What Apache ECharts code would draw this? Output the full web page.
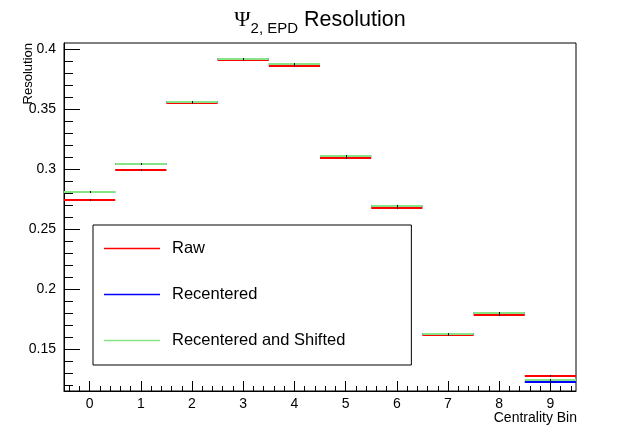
<!DOCTYPE html>
<html>
<head>
<meta charset="utf-8">
<script src="https://cdn.jsdelivr.net/npm/echarts@6/dist/echarts.min.js"></script>
<style>
html,body{margin:0;padding:0;background:#fff;}
#chart{width:640px;height:435px;}
</style>
</head>
<body>
<div id="chart"></div>
<script>
// ---- data ----
var bins = [0, 1, 2, 3, 4, 5, 6, 7, 8, 9];
var rawValues = [0.2742, 0.2991, 0.3549, 0.3907, 0.3857, 0.3091, 0.2675, 0.1618, 0.1785, 0.1277];
var recenteredValues = [0.2808, 0.3041, 0.3557, 0.3915, 0.3873, 0.3108, 0.2692, 0.1626, 0.1801, 0.1227];
var shiftedValues = [0.2808, 0.3041, 0.3557, 0.3915, 0.3873, 0.3108, 0.2692, 0.1626, 0.1801, 0.1244];
var rawErrors = [0.0008, 0.0008, 0.0008, 0.0008, 0.0008, 0.0008, 0.0008, 0.0008, 0.0008, 0.0008];
var recenteredErrors = [0.0008, 0.0008, 0.0008, 0.0008, 0.0008, 0.0008, 0.0008, 0.0008, 0.0008, 0.0008];
var shiftedErrors = [0.0008, 0.0008, 0.0008, 0.0008, 0.0008, 0.0008, 0.0008, 0.0008, 0.0008, 0.0008];
var seriesNames = ['Raw', 'Recentered', 'Recentered and Shifted'];
var xAxisTitle = 'Centrality Bin';
var yAxisTitle = 'Resolution';
var xTickLabels = [0, 1, 2, 3, 4, 5, 6, 7, 8, 9];
var yTickLabels = [0.15, 0.2, 0.25, 0.3, 0.35, 0.4];
var xMinorTicks = [-0.4, -0.2, 0.2, 0.4, 0.6, 0.8, 1.2, 1.4, 1.6, 1.8, 2.2, 2.4, 2.6, 2.8, 3.2, 3.4, 3.6, 3.8,
  4.2, 4.4, 4.6, 4.8, 5.2, 5.4, 5.6, 5.8, 6.2, 6.4, 6.6, 6.8, 7.2, 7.4, 7.6, 7.8, 8.2, 8.4, 8.6, 8.8, 9.2, 9.4];
var yMinorTicks = [0.12, 0.13, 0.14, 0.16, 0.17, 0.18, 0.19, 0.21, 0.22, 0.23, 0.24, 0.26, 0.27, 0.28, 0.29,
  0.31, 0.32, 0.33, 0.34, 0.36, 0.37, 0.38, 0.39];

var FONT = 'Liberation Sans, Arial, Helvetica, sans-serif';
var colors = ['#ff0000', '#0000ff', '#86e486'];

function makeData(vals, errs) {
  return bins.map(function (b, i) { return [b, vals[i], errs[i]]; });
}

function makeRender(color) {
  return function (params, api) {
    var x = api.value(0), y = api.value(1), e = api.value(2);
    var p1 = api.coord([x - 0.5, y]);
    var p2 = api.coord([x + 0.5, y]);
    var c1 = api.coord([x, y - e]);
    var c2 = api.coord([x, y + e]);
    var py = Math.round(p1[1]);
    var cx = Math.round(c1[0]) + 0.5;
    return {
      type: 'group',
      children: [
        { type: 'line', shape: { x1: p1[0], y1: py, x2: p2[0], y2: py },
          style: { stroke: color, lineWidth: 2 } },
        { type: 'line', shape: { x1: cx, y1: c1[1], x2: cx, y2: c2[1] },
          style: { stroke: '#000', lineWidth: 1 } }
      ]
    };
  };
}

var allVals = [rawValues, recenteredValues, shiftedValues];
var allErrs = [rawErrors, recenteredErrors, shiftedErrors];
var series = seriesNames.map(function (name, k) {
  return {
    name: name,
    type: 'custom',
    xAxisIndex: 0,
    yAxisIndex: 0,
    clip: true,
    itemStyle: { color: colors[k] },
    encode: { x: 0, y: 1 },
    renderItem: makeRender(colors[k]),
    data: makeData(allVals[k], allErrs[k])
  };
});

var chart = echarts.init(document.getElementById('chart'), null, { renderer: 'canvas' });
var option = {
  backgroundColor: '#ffffff',
  animation: false,
  textStyle: { fontFamily: FONT },
  title: {
    text: '{psi|\u03A8}{sub|2, EPD}{main| Resolution}',
    left: 'center',
    top: -1,
    textStyle: {
      fontWeight: 'normal',
      rich: {
        psi: { fontFamily: 'Liberation Serif, DejaVu Serif, serif', fontSize: 22, fontWeight: 'normal', color: '#000', verticalAlign: 'middle' },
        sub: { fontFamily: FONT, fontSize: 15, fontWeight: 'normal', color: '#000', verticalAlign: 'bottom', lineHeight: 32 },
        main: { fontFamily: FONT, fontSize: 21.5, fontWeight: 'normal', color: '#000', verticalAlign: 'middle' }
      }
    }
  },
  legend: {
    orient: 'vertical',
    left: 93,
    top: 225,
    data: seriesNames.map(function (n) { return { name: n, icon: 'rect' }; }),
    itemWidth: 56,
    itemHeight: 1.5,
    itemGap: 29,
    padding: [15, 66, 16, 11],
    borderColor: '#000',
    borderWidth: 1,
    backgroundColor: '#fff',
    textStyle: { fontFamily: FONT, fontSize: 16.5, color: '#000', padding: [0, 0, 0, 7] },
    selectedMode: false
  },
  grid: {
    left: 64, right: 64, top: 43, bottom: 44,
    outerBoundsMode: 'none',
    containLabel: false,
    show: true, borderColor: '#000', borderWidth: 1, backgroundColor: 'transparent'
  },
  graphic: [
    { type: 'text', x: 577, y: 418,
      style: { text: xAxisTitle, fill: '#000', font: '14px ' + FONT, align: 'right', verticalAlign: 'middle' } },
    { type: 'text', x: 28, y: 43, rotation: Math.PI / 2,
      style: { text: yAxisTitle, fill: '#000', font: '13px ' + FONT, align: 'right', verticalAlign: 'middle' } }
  ],
  xAxis: [
    {
      type: 'value', min: -0.5, max: 9.5,
      axisLine: { show: true, onZero: false, lineStyle: { color: '#000', width: 1 } },
      axisTick: { show: true, inside: true, length: 10, customValues: xTickLabels, lineStyle: { color: '#000' } },
      axisLabel: { show: true, customValues: xTickLabels, fontFamily: FONT, fontSize: 14, color: '#000', margin: 6 },
      splitLine: { show: false }
    },
    {
      type: 'value', min: -0.5, max: 9.5, position: 'bottom',
      axisLine: { show: false, onZero: false },
      axisTick: { show: true, inside: true, length: 5, customValues: xMinorTicks, lineStyle: { color: '#000' } },
      axisLabel: { show: false },
      splitLine: { show: false }
    }
  ],
  yAxis: [
    {
      type: 'value', min: 0.1152, max: 0.4048,
      axisLine: { show: true, onZero: false, lineStyle: { color: '#000', width: 1 } },
      axisTick: { show: true, inside: true, length: 16, customValues: yTickLabels, lineStyle: { color: '#000' } },
      axisLabel: { show: true, customValues: yTickLabels, fontFamily: FONT, fontSize: 14, color: '#000', margin: 8,
        formatter: function (v) { return String(+v.toFixed(2)); } },
      splitLine: { show: false }
    },
    {
      type: 'value', min: 0.1152, max: 0.4048, position: 'left',
      axisLine: { show: false, onZero: false },
      axisTick: { show: true, inside: true, length: 9, customValues: yMinorTicks, lineStyle: { color: '#000' } },
      axisLabel: { show: false },
      splitLine: { show: false }
    }
  ],
  series: series
};
chart.setOption(option);
</script>
</body>
</html>
